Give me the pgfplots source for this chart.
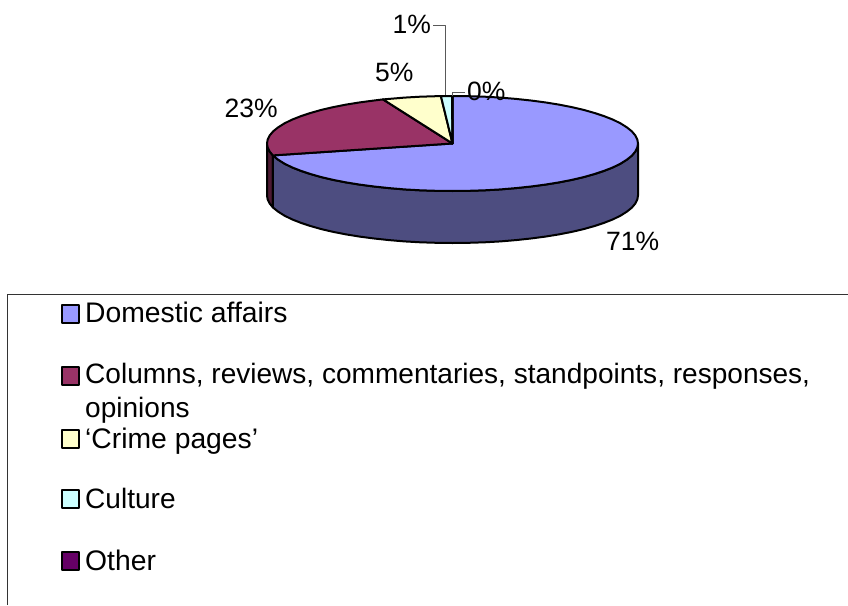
\documentclass[border=0pt]{standalone}
\usepackage{fontspec}
\setmainfont{Liberation Sans}
\usepackage{pgfplots}
\pgfplotsset{compat=1.18}
\definecolor{cBlue}{HTML}{9999FF}
\definecolor{cBlueD}{HTML}{4D4D80}
\definecolor{cRed}{HTML}{993366}
\definecolor{cRedD}{HTML}{4D1A33}
\definecolor{cYel}{HTML}{FFFFCC}
\definecolor{cCya}{HTML}{CCFFFF}
\definecolor{cPur}{HTML}{660066}
\newcommand{\lab}[3]{\node[anchor=base west, inner sep=0pt, font=\fontsize{28.3}{28.3}\selectfont] at (axis cs:#1,#2) {#3};}
\newcommand{\labl}[3]{\node[anchor=base west, inner sep=0pt, font=\fontsize{28.05}{28.05}\selectfont] at (axis cs:#1,#2) {#3};}
\newcommand{\plab}[3]{\node[anchor=base west, inner sep=0pt, font=\fontsize{26.5}{26.5}\selectfont] at (axis cs:#1,#2) {#3};}
\begin{document}
\begin{tikzpicture}
\begin{axis}[hide axis, scale only axis, width=848pt, height=605pt,
  xmin=0, xmax=848, ymin=0, ymax=605, y dir=reverse,
  every axis plot/.append style={line join=round, no markers},
  clip=true]
\addplot[draw=none, fill=white] coordinates {(0,0) (848,0) (848,605) (0,605)} --cycle;
% side walls
\addplot[fill=cRedD, draw=black, line width=2pt] coordinates {
(272.9,155.4) (269.8,151.7) (267.7,147.6) (267.0,143.5)
(267.0,195.5) (267.7,199.6) (269.8,203.7) (272.9,207.4)} --cycle;
\addplot[fill=cBlueD, draw=black, line width=2pt] coordinates {
(638.0,143.5) (637.3,147.6) (635.2,151.7) (631.7,155.8) (626.8,159.7) (620.6,163.6) (613.1,167.3) (604.5,170.7) (594.6,174.0) (583.7,177.1) (571.7,179.9) (558.9,182.4) (545.3,184.6) (530.9,186.5) (515.9,188.1) (500.5,189.4) (484.7,190.3) (468.7,190.8) (452.5,191.0) (436.3,190.8) (420.3,190.3) (404.5,189.4) (389.1,188.1) (374.1,186.5) (359.7,184.6) (346.1,182.4) (333.3,179.9) (321.3,177.1) (310.4,174.0) (300.5,170.7) (291.9,167.3) (284.4,163.6) (278.2,159.7) (273.3,155.8) (272.9,155.4)
(272.9,207.4) (273.3,207.8) (278.2,211.7) (284.4,215.6) (291.9,219.3) (300.5,222.7) (310.4,226.0) (321.3,229.1) (333.3,231.9) (346.1,234.4) (359.7,236.6) (374.1,238.5) (389.1,240.1) (404.5,241.4) (420.3,242.3) (436.3,242.8) (452.5,243.0) (468.7,242.8) (484.7,242.3) (500.5,241.4) (515.9,240.1) (530.9,238.5) (545.3,236.6) (558.9,234.4) (571.7,231.9) (583.7,229.1) (594.6,226.0) (604.5,222.7) (613.1,219.3) (620.6,215.6) (626.8,211.7) (631.7,207.8) (635.2,203.7) (637.3,199.6) (638.0,195.5)} --cycle;
% top: Domestic affairs 71%
\addplot[fill=cBlue, draw=black, line width=2pt] coordinates {
(452.5,143.5) (452.5,96.0) (468.7,96.2) (484.7,96.7) (500.5,97.6) (515.9,98.9) (530.9,100.5) (545.3,102.4) (558.9,104.6) (571.7,107.1) (583.7,109.9) (594.6,113.0) (604.5,116.3) (613.1,119.7) (620.6,123.4) (626.8,127.3) (631.7,131.2) (635.2,135.3) (637.3,139.4) (638.0,143.5) (637.3,147.6) (635.2,151.7) (631.7,155.8) (626.8,159.7) (620.6,163.6) (613.1,167.3) (604.5,170.7) (594.6,174.0) (583.7,177.1) (571.7,179.9) (558.9,182.4) (545.3,184.6) (530.9,186.5) (515.9,188.1) (500.5,189.4) (484.7,190.3) (468.7,190.8) (452.5,191.0) (436.3,190.8) (420.3,190.3) (404.5,189.4) (389.1,188.1) (374.1,186.5) (359.7,184.6) (346.1,182.4) (333.3,179.9) (321.3,177.1) (310.4,174.0) (300.5,170.7) (291.9,167.3) (284.4,163.6) (278.2,159.7) (273.3,155.8) (272.9,155.4)} --cycle;
% Columns 23%
\addplot[fill=cRed, draw=black, line width=2pt] coordinates {
(452.5,143.5) (272.9,155.4) (269.8,151.7) (267.7,147.6) (267.0,143.5) (267.7,139.4) (269.8,135.3) (273.3,131.2) (278.2,127.3) (284.4,123.4) (291.9,119.7) (300.5,116.3) (310.4,113.0) (321.3,109.9) (333.3,107.1) (346.1,104.6) (359.7,102.4) (374.1,100.5) (383.0,99.4)} --cycle;
% Crime pages 5%
\addplot[fill=cYel, draw=black, line width=2pt] coordinates {
(452.5,143.5) (383.0,99.4) (389.1,98.9) (404.5,97.6) (420.3,96.7) (436.3,96.2) (440.9,96.1)} --cycle;
% Culture 1%
\addplot[fill=cCya, draw=black, line width=2pt] coordinates {
(452.5,143.5) (440.9,96.1) (452.0,96.0)} --cycle;
% Other 0%
\addplot[fill=cPur, draw=black, line width=2pt] coordinates {
(452.5,143.5) (452.0,96.0) (452.5,96.0)} --cycle;
% leader lines
\addplot[color=black!65, line width=1pt] coordinates {(433,25.5) (445.5,25.5) (445.5,95)};
\addplot[color=black!65, line width=1pt] coordinates {(465,92) (452.5,92) (452.5,95.5)};
% legend frame
\addplot[color=black!80, line width=1pt] coordinates {(7.5,605) (7.5,294.5) (848,294.5)};
% legend swatches
\addplot[fill=cBlue, draw=black, line width=2pt] coordinates {(61.5,304.5) (78.5,304.5) (78.5,322.5) (61.5,322.5)} --cycle;
\addplot[fill=cRed, draw=black, line width=2pt] coordinates {(61.5,367) (78.5,367) (78.5,385) (61.5,385)} --cycle;
\addplot[fill=cYel, draw=black, line width=2pt] coordinates {(61.5,429.5) (78.5,429.5) (78.5,447.5) (61.5,447.5)} --cycle;
\addplot[fill=cCya, draw=black, line width=2pt] coordinates {(61.5,489.5) (78.5,489.5) (78.5,507.5) (61.5,507.5)} --cycle;
\addplot[fill=cPur, draw=black, line width=2pt] coordinates {(61.5,552) (78.5,552) (78.5,570) (61.5,570)} --cycle;
% texts
\plab{606}{250}{71\%}
\plab{224.5}{117.5}{23\%}
\plab{375}{81}{5\%}
\plab{392.5}{33}{1\%}
\plab{467}{100}{0\%}
\lab{85}{322}{Domestic affairs}
\labl{85}{383}{Columns, reviews, commentaries, standpoints, responses,}
\labl{85}{417}{opinions}
\lab{85}{448}{‘Crime pages’}
\labl{85}{508}{Culture}
\lab{85}{570}{Other}
\end{axis}
\end{tikzpicture}
\end{document}
